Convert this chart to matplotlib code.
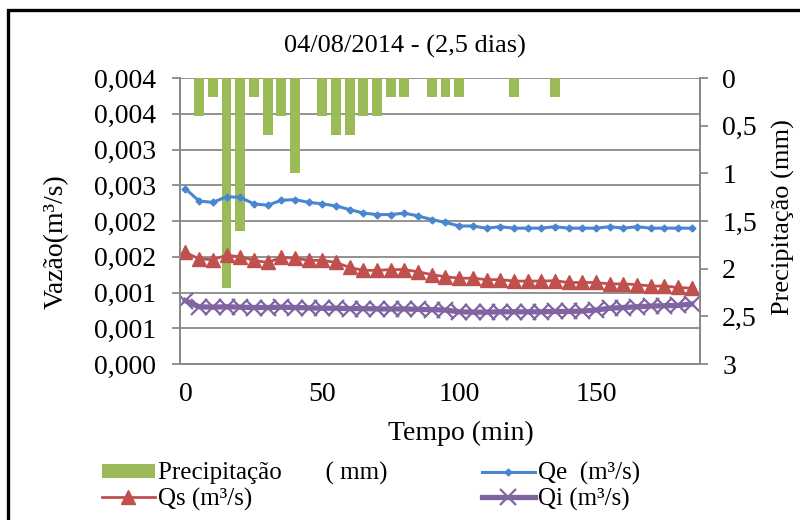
import matplotlib
matplotlib.use("Agg")
import matplotlib.pyplot as plt
from matplotlib.patches import Rectangle

plt.rcParams['font.family'] = ['Liberation Serif', 'DejaVu Serif']

# tempo (min)
tempo = [0, 5, 10, 15, 20, 25, 30, 35, 40, 45, 50, 55, 60, 65, 70, 75, 80, 85, 90,
         95, 100, 105, 110, 115, 120, 125, 130, 135, 140, 145, 150, 155, 160, 165,
         170, 175, 180, 185]

# vazoes (m3/s)
qe = [0.00245, 0.00228, 0.00226, 0.00234, 0.00233, 0.00224, 0.00222, 0.00229, 0.00230,
      0.00226, 0.00224, 0.00221, 0.00216, 0.00211, 0.00209, 0.00209, 0.00211, 0.00207,
      0.00202, 0.00198, 0.00193, 0.00193, 0.00190, 0.00192, 0.00190, 0.00190, 0.00190,
      0.00192, 0.00190, 0.00190, 0.00190, 0.00192, 0.00190, 0.00192, 0.00190, 0.00190,
      0.00190, 0.00190]
qs = [0.00156, 0.00147, 0.00146, 0.00152, 0.00150, 0.00145, 0.00142, 0.00149, 0.00148,
      0.00145, 0.00145, 0.00142, 0.00135, 0.00131, 0.00131, 0.00132, 0.00132, 0.00129,
      0.00125, 0.00122, 0.00120, 0.00120, 0.00118, 0.00118, 0.00116, 0.00116, 0.00116,
      0.001165, 0.00114, 0.00114, 0.00114, 0.00112, 0.00112, 0.00111, 0.00109, 0.00109,
      0.00107, 0.00106]
qi = [0.000885, 0.00080, 0.000795, 0.00080, 0.000795, 0.00079, 0.00079, 0.000795, 0.00079,
      0.000785, 0.00078, 0.00078, 0.000775, 0.000775, 0.00077, 0.00077, 0.00077, 0.000765,
      0.00076, 0.000755, 0.00073, 0.000725, 0.000725, 0.00073, 0.00073, 0.00073, 0.00073,
      0.000735, 0.000735, 0.00074, 0.000755, 0.00078, 0.00079, 0.00080, 0.00081, 0.000815,
      0.00082, 0.00084]

# precipitacao (mm)
tempo_chuva = [5, 10, 15, 20, 25, 30, 35, 40, 50, 55, 60, 65, 70, 75, 80, 90, 95, 100, 120, 135]
chuva = [0.4, 0.2, 2.2, 1.6, 0.2, 0.6, 0.4, 1.0, 0.4, 0.6, 0.6, 0.4, 0.4, 0.2, 0.2,
         0.2, 0.2, 0.2, 0.2, 0.2]

yticks_esq = [0, 0.0005, 0.001, 0.0015, 0.002, 0.0025, 0.003, 0.0035, 0.004]
ylabels_esq = ['0,000', '0,001', '0,001', '0,002', '0,002', '0,003', '0,003', '0,004', '0,004']
yticks_dir = [0, 0.5, 1, 1.5, 2, 2.5, 3]
ylabels_dir = ['0', '0,5', '1', '1,5', '2', '2,5', '3']
xticks = [0, 50, 100, 150]

cinza = '#898989'
W, H = 800, 520

fig = plt.figure(figsize=(8, 5.2), dpi=100)
ax = fig.add_axes([180 / W, 1 - 364 / H, 520 / W, 286 / H])
ax2 = ax.twinx()
ax.set_zorder(ax2.get_zorder() + 1)
ax.patch.set_visible(False)

# barras de chuva no eixo direito (invertido)
ax2.bar(tempo_chuva, chuva, width=3.6, color='#9BBB59', zorder=2,
        label='Precipitação       ( mm)')
ax2.set_ylim(3, 0)
ax2.set_yticks(yticks_dir)
ax2.set_yticklabels(ylabels_dir)
# linhas de grade (do eixo esquerdo) atras das barras
ax2.hlines([k / 8 for k in range(1, 9)], 0, 1, transform=ax2.transAxes,
           color=cinza, lw=1.3, zorder=1)

l_qe, = ax.plot(tempo, qe, color='#4A86CF', lw=2.2, marker='D', ms=3.5, label='Qe  (m³/s)')
l_qs, = ax.plot(tempo, qs, color='#C0504D', lw=2.0, marker='^', ms=10.5, label='Qs (m³/s)')
l_qi, = ax.plot(tempo, qi, color='#8064A2', lw=3.8, marker='x', ms=11, mew=1.6,
                label='Qi (m³/s)')

ax.set_xlim(-2, 188)
ax.set_ylim(0, 0.004)
ax.set_xticks(xticks)
ax.set_yticks(yticks_esq)
ax.set_yticklabels(ylabels_esq)

for a in (ax, ax2):
    for s in a.spines.values():
        s.set_color(cinza)
        s.set_linewidth(1.3)
    a.spines['top'].set_visible(False)

ax.tick_params(axis='y', direction='out', length=6, width=1.3, color=cinza,
               labelsize=20, pad=11)
ax.tick_params(axis='x', length=0, labelsize=20, pad=13)
ax2.tick_params(axis='y', direction='out', length=6, width=1.3, color=cinza,
                labelsize=20, pad=10)

fig.text(405 / W, 1 - 46 / H, '04/08/2014 - (2,5 dias)', fontsize=19,
         ha='center', va='center')
fig.text(461 / W, 1 - 433 / H, 'Tempo (min)', fontsize=20, ha='center', va='center')
fig.text(56 / W, 1 - 242 / H, 'Vazão(m³/s)', fontsize=20, ha='center', va='center',
         rotation=90)
fig.text(783 / W, 1 - 217 / H, 'Precipitação (mm)', fontsize=19, ha='center',
         va='center', rotation=90)

h_bar, lab_bar = ax2.get_legend_handles_labels()
handles = [h_bar[0], l_qs, l_qe, l_qi]
labels = [lab_bar[0], l_qs.get_label(), l_qe.get_label(), l_qi.get_label()]
fig.legend(handles, labels, loc='upper left', bbox_to_anchor=(102 / W, 1 - 462 / H),
           ncol=2, frameon=False, fontsize=18, handlelength=2.1, handletextpad=0.12,
           columnspacing=3.8, labelspacing=0.1, borderpad=0, borderaxespad=0,
           handleheight=0.5)

fig.patches.append(Rectangle((8 / W, -0.1), 1.2, 1.1 - 10 / H, transform=fig.transFigure,
                             fill=False, ec='black', lw=2.4))

fig.savefig('out.png', dpi=100)
